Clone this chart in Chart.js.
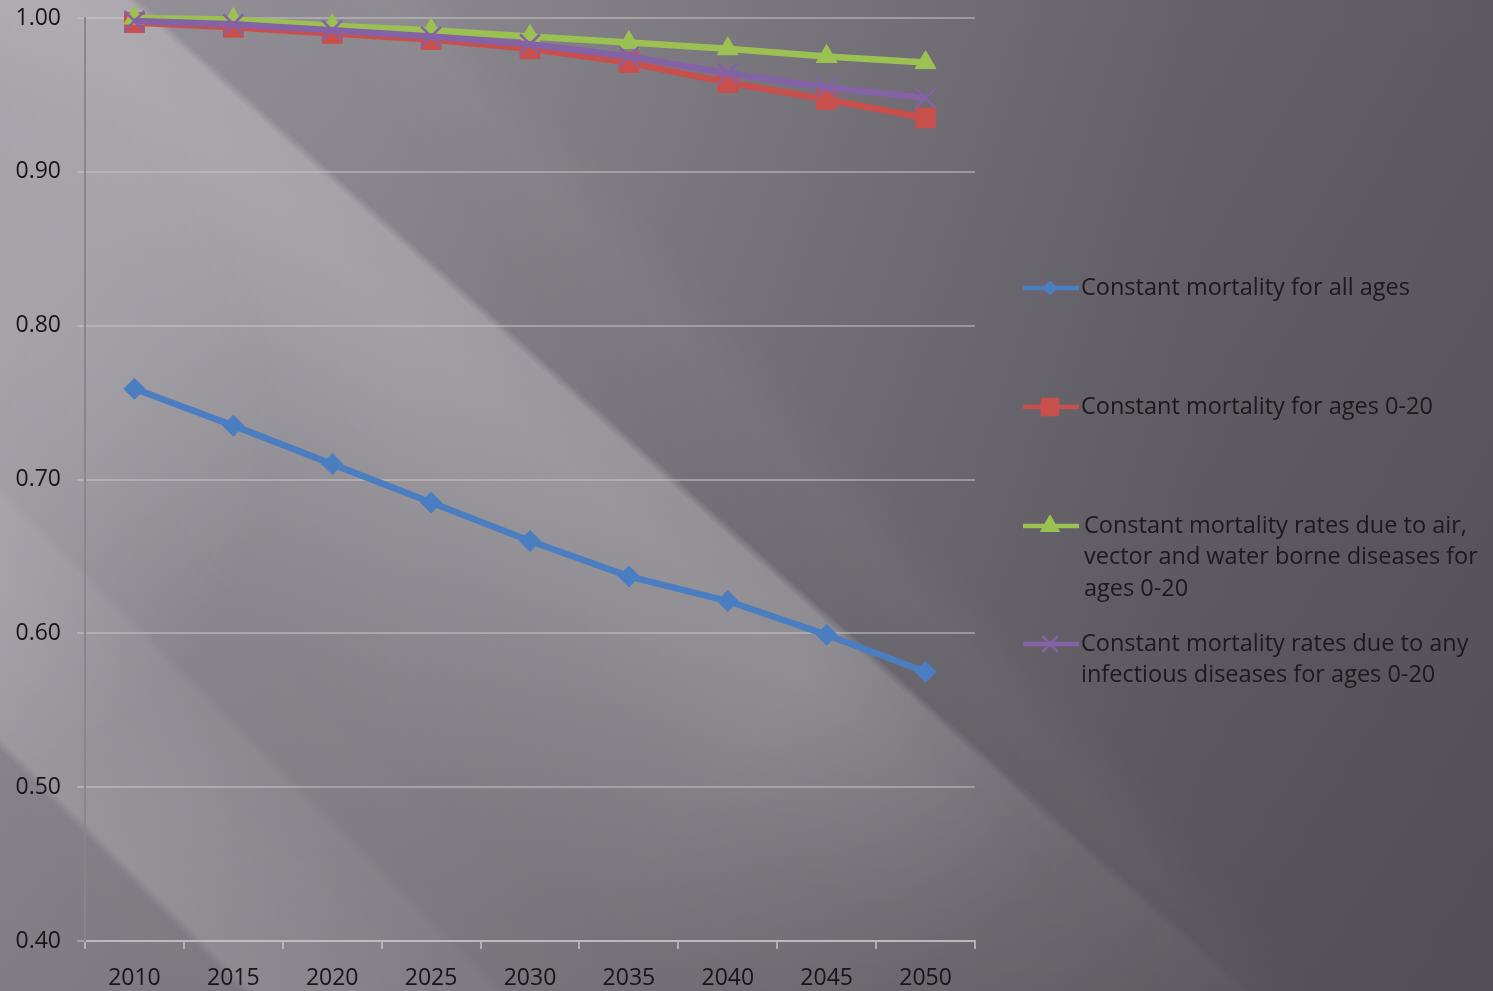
<!DOCTYPE html>
<html>
<head>
<meta charset="utf-8">
<script src="https://cdn.jsdelivr.net/npm/chart.js@4/dist/chart.umd.min.js"></script>
<style>
  html, body { margin: 0; padding: 0; background: #6c696f; }
  #wrap { position: relative; width: 1493px; height: 991px; }
  canvas { display: block; }
</style>
</head>
<body>
<div id="wrap"><canvas id="c" width="1493" height="991"></canvas></div>
<script>
// Projection years
const years = ['2010', '2015', '2020', '2025', '2030', '2035', '2040', '2045', '2050'];

// Series values (share of population)
const allAges        = [0.759, 0.735, 0.710, 0.685, 0.660, 0.637, 0.621, 0.599, 0.575];
const ages0to20      = [0.997, 0.994, 0.990, 0.986, 0.980, 0.971, 0.958, 0.947, 0.935];
const airVectorWater = [1.000, 0.999, 0.995, 0.992, 0.988, 0.984, 0.980, 0.975, 0.971];
const anyInfectious  = [0.998, 0.996, 0.992, 0.988, 0.983, 0.975, 0.964, 0.955, 0.948];

// Legend texts, one entry per line
const legendLabels = [
  ['Constant mortality for all ages'],
  ['Constant mortality for ages 0-20'],
  ['Constant mortality rates due to air,', 'vector and water borne diseases for', 'ages 0-20'],
  ['Constant mortality rates due to any', 'infectious diseases for ages 0-20']
];

// Y axis range and tick step
const yMin = 0.40, yMax = 1.00, yStep = 0.10;

const BLUE = '#4a7ec1', RED = '#c8504c', GREEN = '#9bc152', PURPLE = '#8462a6';
const FONT = '"Open Sans"';

const grey = v => 'rgb(' + v + ',' + (v - 3) + ',' + (v + 4) + ')';

// Backdrop: grey wash with soft diagonal light streaks
const backdrop = {
  id: 'backdrop',
  beforeDraw(chart) {
    const ctx = chart.ctx, W = chart.width, H = chart.height;
    ctx.save();
    let g = ctx.createLinearGradient(0, 0, W, 0);
    g.addColorStop(0, grey(150));
    g.addColorStop(400 / W, grey(139));
    g.addColorStop(800 / W, grey(119));
    g.addColorStop(1200 / W, grey(100));
    g.addColorStop(1, grey(93));
    ctx.fillStyle = g;
    ctx.fillRect(0, 0, W, H);
    g = ctx.createLinearGradient(0, 0, 0, H);
    g.addColorStop(0, 'rgba(20,18,24,0)');
    g.addColorStop(1, 'rgba(20,18,24,0.17)');
    ctx.fillStyle = g;
    ctx.fillRect(0, 0, W, H);

    // each light patch is painted on its own layer, then masked
    const layer = document.createElement('canvas');
    layer.width = W; layer.height = H;
    const lc = layer.getContext('2d');
    const alongNormal = (nx, ny, stops, colour) => {
      const s0 = -1000, s1 = 1000;
      const lg = lc.createLinearGradient(s0 * nx, s0 * ny, s1 * nx, s1 * ny);
      lg.addColorStop(0, colour + '0)');
      stops.forEach(([s, a]) => lg.addColorStop((s - s0) / (s1 - s0), colour + a + ')'));
      lg.addColorStop(1, colour + '0)');
      return lg;
    };
    const band = (nx, ny, stops, fade) => {
      lc.globalCompositeOperation = 'source-over';
      lc.clearRect(0, 0, W, H);
      lc.fillStyle = alongNormal(nx, ny, stops, 'rgba(255,253,255,');
      lc.fillRect(0, 0, W, H);
      // fade along the streak direction (-ny, nx)
      const dx = -ny, dy = nx;
      const fg = lc.createLinearGradient(0, 0, 2000 * dx, 2000 * dy);
      fade.forEach(([t, a]) => fg.addColorStop(t / 2000, 'rgba(0,0,0,' + a + ')'));
      lc.globalCompositeOperation = 'destination-in';
      lc.fillStyle = fg;
      lc.fillRect(0, 0, W, H);
      ctx.drawImage(layer, 0, 0);
    };
    // main broad streak
    band(0.665, -0.747, [
      [-640, 0], [-460, 0.03], [-300, 0.05], [-200, 0.10], [-120, 0.15],
      [-40, 0.21], [30, 0.25], [84, 0.24], [93, 0.0]
    ], [[0, 1], [1050, 1], [1350, 0.35], [1700, 0.05], [2000, 0]]);
    // narrower streak lower left
    band(0.707, -0.707, [
      [-531, 0.0], [-521, 0.17], [-440, 0.13], [-352, 0.07], [-340, 0.0]
    ], [[0, 1], [700, 1], [1000, 0.6], [1400, 0], [2000, 0]]);
    // faint glow right of the main streak
    band(0.75, -0.66, [
      [200, 0], [290, 0.035], [350, 0.0]
    ], [[0, 1], [1400, 1], [1700, 0], [2000, 0]]);

    // glow along the left edge, cut off by the lower-left streak edge
    lc.globalCompositeOperation = 'source-over';
    lc.clearRect(0, 0, W, H);
    const rg = lc.createRadialGradient(-80, 430, 0, -80, 430, 360);
    rg.addColorStop(0, 'rgba(255,253,255,0.2)');
    rg.addColorStop(0.5, 'rgba(255,253,255,0.12)');
    rg.addColorStop(1, 'rgba(255,253,255,0)');
    lc.fillStyle = rg;
    lc.fillRect(0, 0, W, H);
    lc.globalCompositeOperation = 'destination-out';
    lc.fillStyle = alongNormal(0.707, -0.707, [[-1000, 1], [-531, 1], [-521, 0], [1000, 0]], 'rgba(0,0,0,');
    lc.fillRect(0, 0, W, H);
    ctx.drawImage(layer, 0, 0);
    ctx.restore();
  }
};

// Legend drawn at the right of the plot
const sideLegend = {
  id: 'sideLegend',
  afterDraw(chart) {
    const ctx = chart.ctx;
    const ds = chart.data.datasets;
    const rows = [288, 407, 526, 644];
    const textX = [1081, 1081, 1084, 1081];
    const markR = [7, 12.5, 11, 11];
    ctx.save();
    ds.forEach((d, i) => {
      const y = rows[i];
      ctx.strokeStyle = d.borderColor;
      ctx.lineWidth = 4.5;
      ctx.beginPath();
      ctx.moveTo(1023, y);
      ctx.lineTo(1079, y);
      ctx.stroke();
      ctx.fillStyle = d.pointBackgroundColor;
      ctx.strokeStyle = d.pointBorderColor;
      ctx.lineWidth = d.pointBorderWidth;
      Chart.helpers.drawPoint(ctx, {
        pointStyle: d.pointStyle,
        radius: markR[i],
        rotation: 0,
        borderWidth: d.pointBorderWidth
      }, 1050, y);
      ctx.font = '23.5px ' + FONT;
      ctx.fillStyle = '#1b1a1d';
      ctx.textBaseline = 'middle';
      ctx.textAlign = 'left';
      legendLabels[i].forEach((line, k) => {
        ctx.fillText(line, textX[i], y + k * 31.5);
      });
    });
    ctx.restore();
  }
};

const mk = (label, data, color, style, r, order, bw) => ({
  label, data, order,
  borderColor: color,
  backgroundColor: color,
  pointBackgroundColor: color,
  pointBorderColor: color,
  pointStyle: style,
  pointRadius: r,
  pointBorderWidth: bw || 1,
  borderWidth: 6.5,
  tension: 0,
  clip: false
});

new Chart(document.getElementById('c'), {
  type: 'line',
  data: {
    labels: years,
    datasets: [
      mk(legendLabels[0].join(' '), allAges, BLUE, 'rectRot', 10.5, 3),
      mk(legendLabels[1].join(' '), ages0to20, RED, 'rect', 14, 2),
      mk(legendLabels[2].join(' '), airVectorWater, GREEN, 'triangle', 12, 1),
      mk(legendLabels[3].join(' '), anyInfectious, PURPLE, 'crossRot', 14, 0, 2.5)
    ]
  },
  options: {
    responsive: false,
    animation: false,
    devicePixelRatio: 1,
    layout: { autoPadding: false, padding: { top: 18, right: 518, bottom: 0, left: 0 } },
    plugins: { legend: { display: false }, tooltip: { enabled: false } },
    scales: {
      x: {
        offset: true,
        grid: {
          display: true,
          offset: true,
          drawOnChartArea: false,
          drawTicks: true,
          tickLength: 8,
          color: 'rgba(196,195,197,0.75)',
          lineWidth: 2
        },
        border: { display: true, color: 'rgba(196,195,197,0.75)', width: 2 },
        ticks: {
          color: '#161618',
          font: { family: FONT, size: 23 },
          padding: 16,
          maxRotation: 0
        },
        afterFit(s) { s.height = 50; s.paddingLeft = 0; s.paddingRight = 0; }
      },
      y: {
        min: yMin,
        max: yMax,
        grid: {
          color: 'rgba(200,199,198,0.5)',
          lineWidth: 2,
          tickLength: 8,
          drawTicks: true
        },
        border: { display: true, color: 'rgba(135,133,138,0.95)', width: 2 },
        ticks: {
          stepSize: yStep,
          color: '#161618',
          font: { family: FONT, size: 23 },
          padding: 16,
          callback: v => v.toFixed(2)
        },
        afterFit(s) { s.width = 85; s.paddingTop = 0; s.paddingBottom = 0; }
      }
    }
  },
  plugins: [backdrop, sideLegend]
});
</script>
</body>
</html>
